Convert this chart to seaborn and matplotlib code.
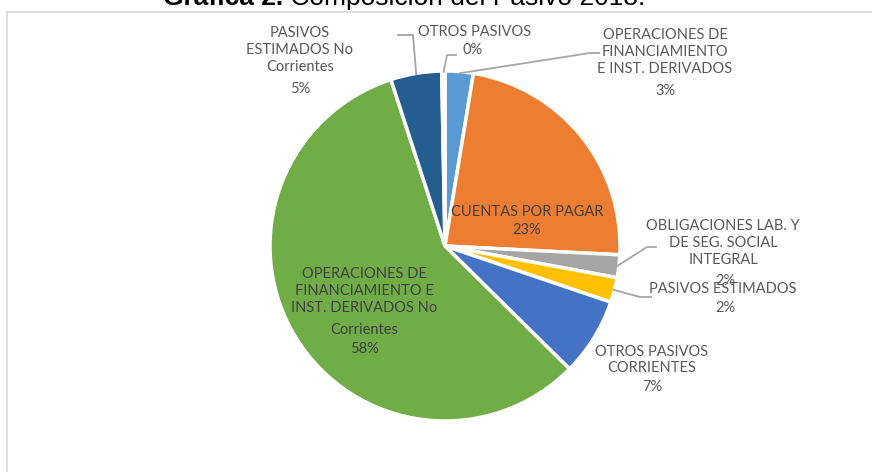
import numpy as np
import pandas as pd
import matplotlib
matplotlib.use("Agg")
import matplotlib.pyplot as plt
import seaborn as sns
from matplotlib.lines import Line2D

sns.set_theme(style="white")
plt.rcParams["font.family"] = ["Lato", "DejaVu Sans"]

# datos de la grafica (orden de las porciones, sentido horario desde arriba)
categorias = ["OPERACIONES DE\nFINANCIAMIENTO\nE INST. DERIVADOS",
              "CUENTAS POR PAGAR",
              "OBLIGACIONES LAB. Y\nDE SEG. SOCIAL\nINTEGRAL",
              "PASIVOS ESTIMADOS",
              "OTROS PASIVOS\nCORRIENTES",
              "OPERACIONES DE\nFINANCIAMIENTO E\nINST. DERIVADOS No",
              "PASIVOS\nESTIMADOS No\nCorrientes",
              "OTROS PASIVOS"]
porcentajes = [2.6, 23.2, 2.1, 2.3, 7.2, 57.6, 4.7, 0.3]
colores = ["#5B9BD5", "#ED7D31", "#A5A5A5", "#FFC000",
           "#4472C4", "#70AD47", "#255E91", "#9E480E"]

df = pd.DataFrame({"categoria": categorias, "pct": porcentajes, "color": colores})

W, H = 872, 472
CX, CY, R = 445, 246, 175   # centro y radio del pastel en pixeles


def px(x, y):
    # pixeles de la imagen -> unidades de datos
    return ((x - CX) / R, (CY - y) / R)


fig = plt.figure(figsize=(W / 100, H / 100), dpi=100)
ax = fig.add_axes([0, 0, 1, 1])
wedges, _ = ax.pie(df["pct"], colors=df["color"], startangle=90, counterclock=False,
                   radius=1, wedgeprops=dict(edgecolor="white", linewidth=2.5))
ax.set_xlim(-CX / R, (W - CX) / R)
ax.set_ylim(-(H - CY) / R, CY / R)
ax.set_aspect("auto")
ax.axis("off")

gris = "#595959"
oscuro = "#404040"
fs = 10.5

# (bloque nombre, pos nombre, pos porcentaje, color, codo y fin de la linea guia)
etiquetas = {
    0: ((665, 52), (665, 91), gris, [(590, 53), (600, 53)]),
    1: ((527, 212), (527, 230), oscuro, None),
    2: ((723, 243), (725, 281), gris, [(647, 247), (657, 247)]),
    3: ((723, 289), (725, 308), gris, [(640, 297), (652, 297)]),
    4: ((652, 360), (652, 387), gris, None),
    5: ((364, 291), (364, 349), oscuro, None),
    6: ((300, 50), (300, 89), gris, [(413, 35), (397, 35)]),
    7: ((475, 32), (473, 50), gris, [(447, 55), (457, 55)]),
}

for i, (pos_n, pos_p, col, guia) in etiquetas.items():
    nombre = df["categoria"][i]
    if i == 5:
        nombre = nombre
    ax.text(*px(*pos_n), nombre, ha="center", va="center", fontsize=fs,
            color=col, linespacing=1.25)
    ax.text(*px(*pos_p), f"{df['pct'][i]:.0f}%", ha="center", va="center",
            fontsize=fs, color=col)
    if guia is not None:
        w = wedges[i]
        ang = np.deg2rad((w.theta1 + w.theta2) / 2)
        xs = [np.cos(ang) * 0.99] + [px(*p)[0] for p in guia]
        ys = [np.sin(ang) * 0.99] + [px(*p)[1] for p in guia]
        ax.plot(xs, ys, color="#A6A6A6", lw=1.3, solid_capstyle="butt")

ax.text(*px(364, 330), "Corrientes", ha="center", va="center", fontsize=fs, color=oscuro)

# borde del area del grafico
fig.add_artist(Line2D([7 / W, 1], [1 - 11.5 / H, 1 - 11.5 / H], color="#D9D9D9", lw=1.2))
fig.add_artist(Line2D([7 / W, 7 / W], [0, 1 - 11.5 / H], color="#D9D9D9", lw=1.2))

# titulo (cortado por arriba como en el original)
r = fig.canvas.get_renderer()
t1 = fig.text(163 / W, 1 - 5 / H, "Gráfica 2.", fontsize=19, fontweight="bold",
              family="Liberation Sans", ha="left", va="baseline", color="black")
bb = t1.get_window_extent(renderer=r)
fig.text(bb.x1 / W, 1 - 5 / H, " Composición del Pasivo 2018.", fontsize=19,
         family="Liberation Sans", ha="left", va="baseline", color="black")

fig.savefig("out.png", dpi=100)
